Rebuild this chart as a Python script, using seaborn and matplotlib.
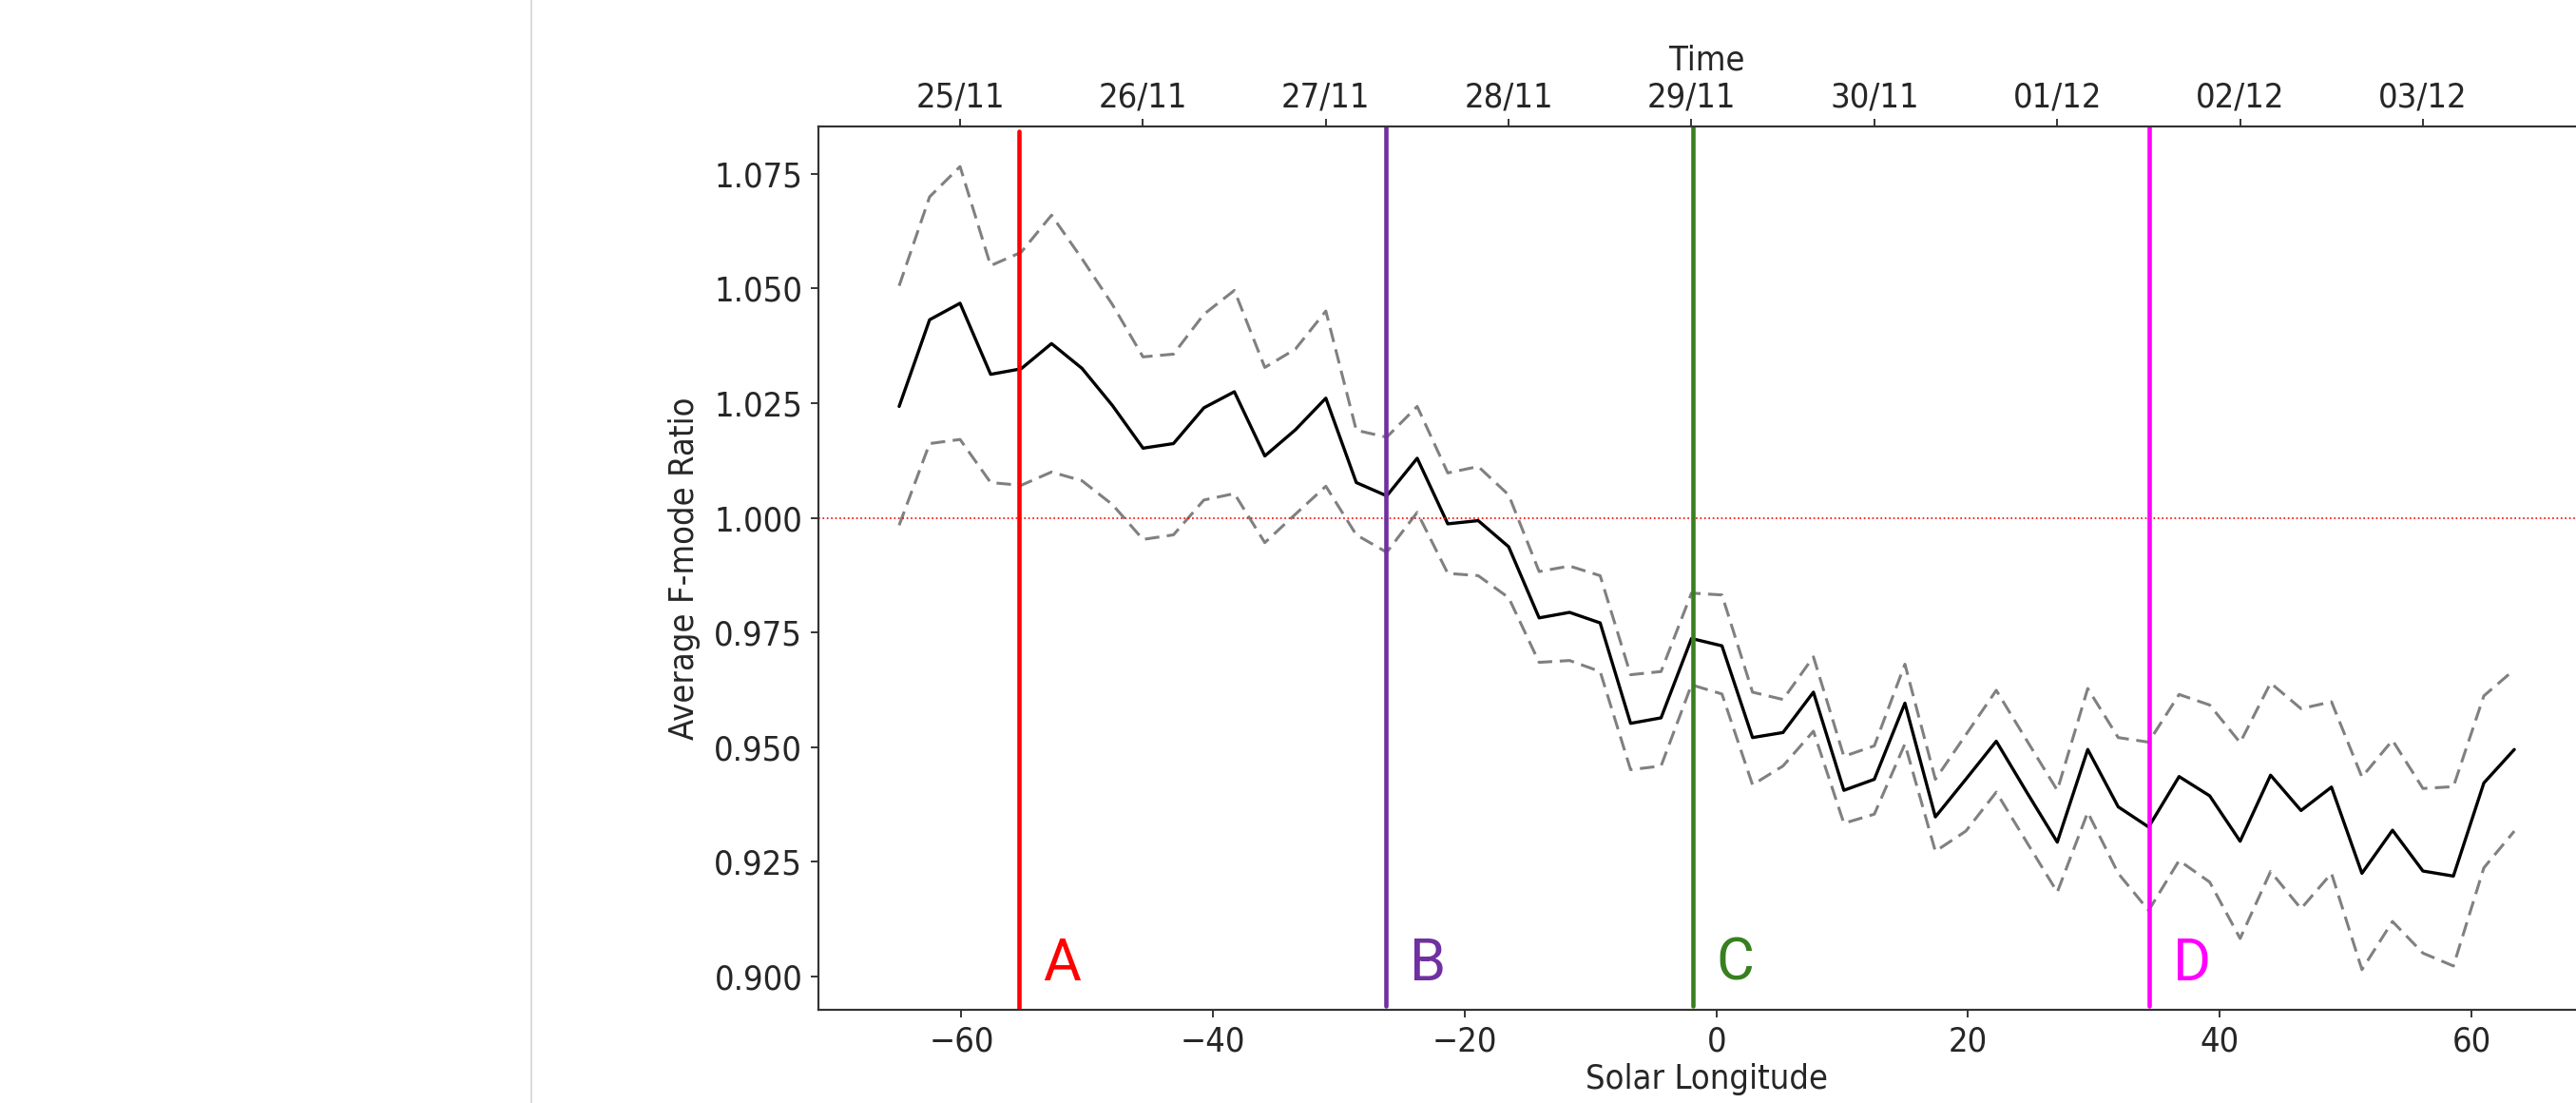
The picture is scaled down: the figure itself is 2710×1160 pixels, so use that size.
import numpy as np
import pandas as pd
import seaborn as sns
import matplotlib.pyplot as plt
from matplotlib.lines import Line2D
from matplotlib.ticker import MultipleLocator

# solar longitude of each sample (one every 4 hours)
longitude = [-64.95, -62.53, -60.11, -57.68, -55.26, -52.84, -50.42, -48.00, -45.57, -43.15,
             -40.73, -38.31, -35.89, -33.46, -31.04, -28.62, -26.20, -23.78, -21.35, -18.93,
             -16.51, -14.09, -11.67, -9.24, -6.82, -4.40, -1.98, 0.44, 2.87, 5.29,
             7.71, 10.13, 12.55, 14.98, 17.40, 19.82, 22.24, 24.66, 27.09, 29.51,
             31.93, 34.35, 36.77, 39.20, 41.62, 44.04, 46.46, 48.88, 51.30, 53.73,
             56.15, 58.57, 60.99, 63.41]

ratio_mean = [1.0243, 1.0432, 1.0468, 1.0313, 1.0325, 1.0380, 1.0326, 1.0245, 1.0152, 1.0162,
              1.0240, 1.0275, 1.0135, 1.0192, 1.0261, 1.0077, 1.0048, 1.0130, 0.9987, 0.9994,
              0.9937, 0.9782, 0.9794, 0.9771, 0.9552, 0.9564, 0.9737, 0.9721, 0.9521, 0.9532,
              0.9620, 0.9406, 0.9430, 0.9596, 0.9348, 0.9430, 0.9513, 0.9402, 0.9293, 0.9495,
              0.9370, 0.9326, 0.9436, 0.9394, 0.9295, 0.9439, 0.9362, 0.9413, 0.9225, 0.9319,
              0.9230, 0.9219, 0.9422, 0.9495]

ratio_upper = [1.0506, 1.0700, 1.0766, 1.0550, 1.0579, 1.0660, 1.0565, 1.0465, 1.0351, 1.0357,
               1.0444, 1.0496, 1.0328, 1.0368, 1.0451, 1.0191, 1.0176, 1.0243, 1.0098, 1.0112,
               1.0050, 0.9883, 0.9895, 0.9874, 0.9658, 0.9665, 0.9836, 0.9832, 0.9620, 0.9604,
               0.9697, 0.9480, 0.9503, 0.9681, 0.9430, 0.9527, 0.9624, 0.9515, 0.9406, 0.9628,
               0.9521, 0.9511, 0.9615, 0.9592, 0.9510, 0.9640, 0.9584, 0.9599, 0.9435, 0.9515,
               0.9410, 0.9414, 0.9612, 0.9669]

ratio_lower = [0.9984, 1.0162, 1.0171, 1.0077, 1.0071, 1.0100, 1.0081, 1.0029, 0.9953, 0.9963,
               1.0039, 1.0053, 0.9946, 1.0008, 1.0069, 0.9963, 0.9925, 1.0012, 0.9879, 0.9874,
               0.9826, 0.9685, 0.9689, 0.9665, 0.9451, 0.9459, 0.9636, 0.9616, 0.9418, 0.9459,
               0.9535, 0.9334, 0.9354, 0.9507, 0.9273, 0.9317, 0.9402, 0.9293, 0.9184, 0.9358,
               0.9225, 0.9144, 0.9253, 0.9206, 0.9083, 0.9229, 0.9148, 0.9225, 0.9015, 0.9120,
               0.9051, 0.9023, 0.9237, 0.9317]

event_lon = [-55.4, -26.3, -1.9, 34.4]
event_labels = ['A', 'B', 'C', 'D']
event_colors = ['#ff0000', '#7030a0', '#38801f', '#ff00ff']

date_lon = [-60.11, -45.57, -31.04, -16.51, -1.98, 12.55, 27.09, 41.62, 56.15]
date_labels = ['25/11', '26/11', '27/11', '28/11', '29/11', '30/11', '01/12', '02/12', '03/12']

sns.set_style('ticks')
plt.rcParams['font.family'] = ['DejaVu Sans']
plt.rcParams['font.stretch'] = 'condensed'
plt.rcParams['axes.edgecolor'] = '#333333'
plt.rcParams['axes.linewidth'] = 1.5

df = pd.DataFrame({'lon': longitude, 'mean': ratio_mean,
                   'upper': ratio_upper, 'lower': ratio_lower})

fig = plt.figure(figsize=(27.1, 11.6), dpi=100)
# axes run past the right edge, like the cropped original
ax = fig.add_axes([0.3177, 0.0845, 0.6897, 0.8009])

sns.lineplot(data=df, x='lon', y='upper', color='gray', lw=2.2, ax=ax)
sns.lineplot(data=df, x='lon', y='lower', color='gray', lw=2.2, ax=ax)
for ln in ax.lines:
    ln.set_dashes((5, 2.6))
sns.lineplot(data=df, x='lon', y='mean', color='black', lw=2.4, ax=ax)

ax.axhline(1.0, color='red', ls=':', lw=1.2)

#event markers
vspan = [(0.0, 0.995), (0.004, 1.0), (0.004, 1.0), (0.004, 1.0)]
for x, lab, c, (y0, y1) in zip(event_lon, event_labels, event_colors, vspan):
    ax.axvline(x, ymin=y0, ymax=y1, color=c, lw=3.3)
    ax.text(x + 1.9, 0.8992, lab, color=c, fontsize=44, family='Roboto', va='baseline')

ax.yaxis.set_major_locator(MultipleLocator(0.025))
ax.set_xlabel('Solar Longitude', fontsize=26, labelpad=4)
ax.set_ylabel('Average F-mode Ratio', fontsize=26, labelpad=10)
ax.tick_params(labelsize=26, length=6, width=1.3, pad=6)

ax2 = ax.twiny()
ax2.set_xlim(ax.get_xlim())
ax2.set_xticks(date_lon)
ax2.set_xticklabels(date_labels)
ax2.set_xlabel('Time', fontsize=26, labelpad=8)
ax2.tick_params(labelsize=26, length=6, width=1.3, pad=4)

fig.add_artist(Line2D([0.2063, 0.2063], [0, 1], color='#d4d4d4', lw=1.2))

plt.savefig('out.png', dpi=100, facecolor='white')
